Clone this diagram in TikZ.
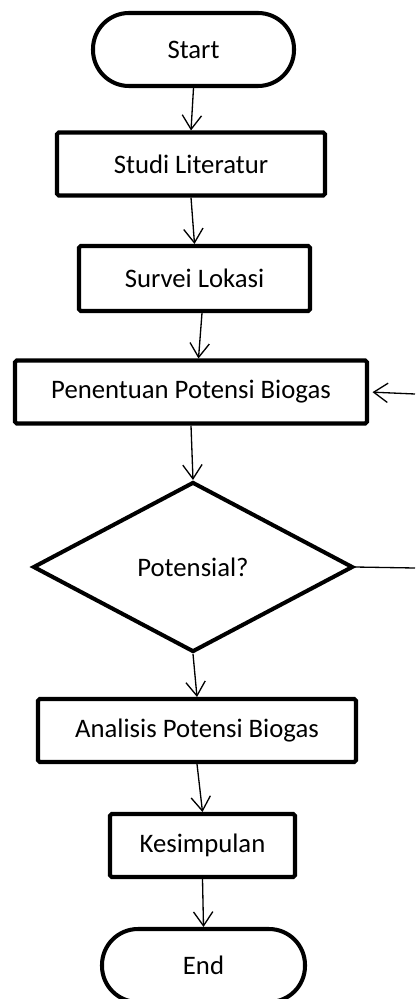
\documentclass[tikz,border=0pt]{standalone}
\usepackage{fontspec}
\setmainfont{Carlito}
\usetikzlibrary{positioning}
\usetikzlibrary{shapes.geometric}
\usetikzlibrary{arrows.meta}

\tikzset{
  proc/.style={draw, line width=2.3pt, rounded corners=1pt, inner sep=0pt, minimum height=1.26cm},
  term/.style={draw, line width=2.3pt, rounded corners=0.72cm, inner sep=0pt, minimum width=4.02cm, minimum height=1.46cm},
  decide/.style={draw, diamond, line width=2.3pt, inner sep=0pt, minimum width=6.4cm, minimum height=3.4cm},
  flow/.style={-{Straight Barb[length=8pt, width=11pt]}, line width=0.75pt},
}

\begin{document}
\begin{tikzpicture}[font=\fontsize{15.2}{18}\selectfont]

\useasboundingbox (0, 0) rectangle (8.3, -19.98);

\node[term] (start) at (3.87, -0.99) {Start};
\node[proc, minimum width=5.36cm] (studi) at (3.82, -3.28) {Studi Literatur};
\node[proc, minimum width=4.62cm, minimum height=1.3cm] (survei) at (3.89, -5.57) {Survei Lokasi};
\node[proc, minimum width=7.04cm] (tentu) at (3.82, -7.84) {Penentuan Potensi Biogas};
\node[decide] (cek) at (3.86, -11.34) {Potensial?};
\node[proc, minimum width=6.36cm] (analisis) at (3.94, -14.61) {Analisis Potensi Biogas};
\node[proc, minimum width=3.70cm] (simpul) at (4.05, -16.91) {Kesimpulan};
\node[term, minimum width=4.06cm] (end) at (4.07, -19.31) {End};

\coordinate (loopa) at (8.3, -11.36);
\coordinate (loopb) at (8.3, -7.88);

\draw[flow] (start.south) to (studi.north);
\draw[flow] (studi.south) to (survei.north);
\draw[flow] ([xshift=0.15cm]survei.south) to ([xshift=0.15cm]tentu.north);
\draw[flow] (tentu.south) to (cek.north);
\draw[flow] (cek.south) to (analisis.north);
\draw[flow] (analisis.south) to (simpul.north);
\draw[flow] (simpul.south) to (end.north);

\draw[line width=0.75pt] (cek.east) to (loopa);
\draw[flow, shorten >=2pt] (loopb) to (tentu.east);

\end{tikzpicture}
\end{document}
